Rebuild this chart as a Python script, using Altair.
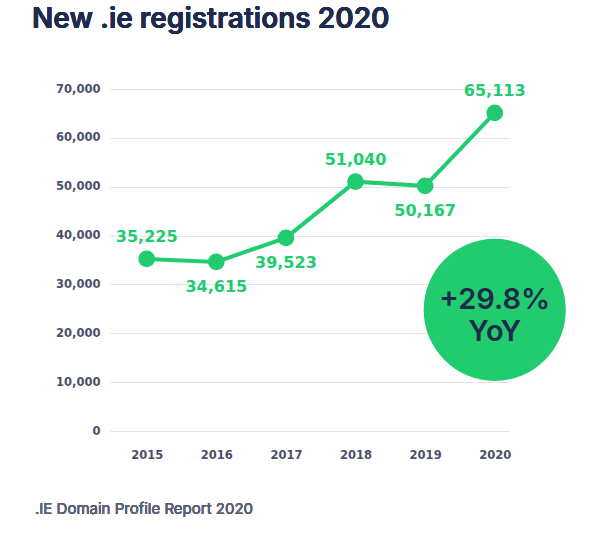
import altair as alt
import pandas as pd

# ---- data ----
years = [2015, 2016, 2017, 2018, 2019, 2020]
registrations = [35225, 34615, 39523, 51040, 50167, 65113]
label_side = ["above", "below", "below", "above", "below", "above"]
y_ticks = [0, 10000, 20000, 30000, 40000, 50000, 60000, 70000]

title_text = "New .ie registrations 2020"
footer_text = ".IE Domain Profile Report 2020"
badge_lines = ["+29.8%", "YoY"]
badge_year = 2020
badge_value = 24800

GREEN = "#21cc6f"
NAVY = "#1f2b4d"
AXIS_GREY = "#4a5068"

df = pd.DataFrame({"year": years, "value": registrations, "side": label_side})
badge_df = pd.DataFrame({"year": [badge_year], "value": [badge_value]})

x_scale = alt.Scale(domain=[2014.473, 2020.205], nice=False, zero=False)
y_scale = alt.Scale(domain=[0, 70000], nice=False)

x_enc = alt.X(
    "year:Q",
    scale=x_scale,
    axis=alt.Axis(
        values=years, labelExpr="format(datum.value, 'd')", title=None, grid=False,
        domain=False, ticks=False,
        labelFont="DejaVu Sans", labelFontWeight="bold", labelFontSize=11.5,
        labelColor=AXIS_GREY, labelPadding=18,
    ),
)
y_enc = alt.Y(
    "value:Q",
    scale=y_scale,
    axis=alt.Axis(
        values=y_ticks, labelExpr="format(datum.value, ',')", title=None, grid=True,
        gridColor="#e4e4e6", gridWidth=1, domain=False, ticks=False,
        labelFont="DejaVu Sans", labelFontWeight="bold", labelFontSize=11.5,
        labelColor=AXIS_GREY, labelPadding=10,
    ),
)

base = alt.Chart(df)

line = base.mark_line(color=GREEN, strokeWidth=4).encode(x=x_enc, y=y_enc)
points = base.mark_point(filled=True, shape="circle", size=280, color=GREEN, opacity=1).encode(
    x="year:Q", y="value:Q"
)

label_style = dict(font="DejaVu Sans", fontWeight="bold", fontSize=16, color=GREEN,
                   align="center", baseline="middle")
labels_above = base.transform_filter(alt.datum.side == "above").mark_text(dy=-22, **label_style).encode(
    x="year:Q", y="value:Q", text=alt.Text("value:Q", format=",")
)
labels_below = base.transform_filter(alt.datum.side == "below").mark_text(dy=25, **label_style).encode(
    x="year:Q", y="value:Q", text=alt.Text("value:Q", format=",")
)

badge_base = alt.Chart(badge_df)
badge = badge_base.mark_point(filled=True, shape="circle", size=20200, color=GREEN, opacity=1).encode(
    x="year:Q", y="value:Q"
)
badge_style = dict(font="Inter", fontWeight=600, fontSize=29, color=NAVY,
                   align="center", baseline="middle")
badge_t1 = badge_base.mark_text(dy=-10, **badge_style).encode(
    x="year:Q", y="value:Q", text=alt.value(badge_lines[0])
)
badge_t2 = badge_base.mark_text(dy=22, **badge_style).encode(
    x="year:Q", y="value:Q", text=alt.value(badge_lines[1])
)

title = alt.Chart(df).mark_text(
    font="Inter", fontWeight=600, fontSize=28, color=NAVY, align="left", baseline="middle"
).encode(x=alt.value(-78), y=alt.value(-69), text=alt.value(title_text))

footer = alt.Chart(df).mark_text(
    font="Inter", fontSize=15, color="#5a5f7a", align="left", baseline="middle"
).encode(x=alt.value(-75), y=alt.value(420), text=alt.value(footer_text))

chart = alt.layer(
    line, points, labels_above, labels_below, badge, badge_t1, badge_t2, title, footer
).properties(
    width=399,
    height=342,
    autosize=alt.AutoSizeParams(type="none"),
    padding={"left": 110, "top": 89, "right": 91, "bottom": 104},
    background="white",
).configure_view(stroke=None)

chart.save("out.html", embed_options={"renderer": "svg", "actions": False})
